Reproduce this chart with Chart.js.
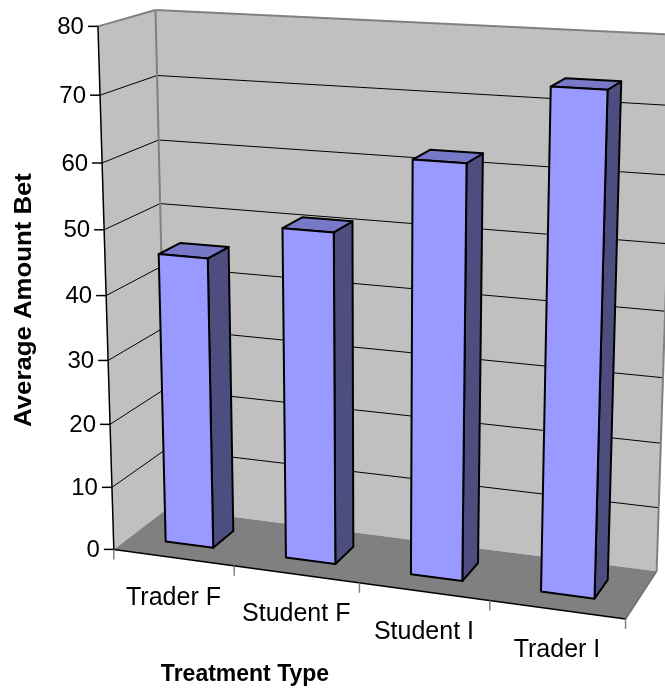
<!DOCTYPE html>
<html>
<head>
<meta charset="utf-8">
<script src="https://cdn.jsdelivr.net/npm/chart.js@4.4.0/dist/chart.umd.min.js"></script>
<style>
  html, body { margin: 0; padding: 0; background: #ffffff; }
  #wrap { width: 665px; height: 692px; position: relative; }
</style>
</head>
<body>
<div id="wrap"><canvas id="betChart"></canvas></div>
<script>
// 3D column chart: Average Amount Bet by treatment

const categories = ['Trader F', 'Student F', 'Student I', 'Trader I'];
const amounts = [45.5, 51, 62.5, 74];
const yTicks = [0, 10, 20, 30, 40, 50, 60, 70, 80];
const yMax = 80;

// frame box calibration: [a, b, c, x, y]
// a = along categories (0..1), b = along values (0..1), c = depth (front 0 .. back 1)
const frameCalib = [
    [0, 0, 0, 115, 549], [0, 0.25, 0, 110.5, 423], [0, 0.5, 0, 106, 295],
    [0, 0.75, 0, 101.5, 163], [0, 1, 0, 97, 27],
    [0, 0, 1, 166, 509], [0, 0.5, 1, 161.5, 268], [0, 1, 1, 157, 9],
    [0.25, 0, 0, 235, 566], [0.5, 0, 0, 359, 583], [0.75, 0, 0, 489, 602],
    [1, 0, 0, 626, 619], [1, 0, 1, 657, 570], [1, 1, 1, 674, 35]
];

// 막대 깊이 (앞뒤) 와 폭 비율
const barDepth = [0.3, 0.7];
const barWidthRatio = 0.4;

function fitProjection(pts) {
    const n = 11;
    const M = Array.from({ length: n }, () => new Array(n + 1).fill(0));
    pts.forEach(([X, Y, Z, u, v]) => {
        const rows = [
            [[X, Y, Z, 1, 0, 0, 0, 0, -u * X, -u * Y, -u * Z], u],
            [[0, 0, 0, 0, X, Y, Z, 1, -v * X, -v * Y, -v * Z], v]
        ];
        rows.forEach(([r, t]) => {
            for (let i = 0; i < n; i++) {
                for (let j = 0; j < n; j++) M[i][j] += r[i] * r[j];
                M[i][n] += r[i] * t;
            }
        });
    });
    for (let k = 0; k < n; k++) {
        let p = k;
        for (let i = k + 1; i < n; i++) if (Math.abs(M[i][k]) > Math.abs(M[p][k])) p = i;
        [M[k], M[p]] = [M[p], M[k]];
        for (let i = 0; i < n; i++) {
            if (i === k) continue;
            const f = M[i][k] / M[k][k];
            for (let j = k; j <= n; j++) M[i][j] -= f * M[k][j];
        }
    }
    return M.map((row, i) => row[n] / row[i]);
}

const P = fitProjection(frameCalib);
function proj(a, b, c) {
    const w = P[8] * a + P[9] * b + P[10] * c + 1;
    return [
        (P[0] * a + P[1] * b + P[2] * c + P[3]) / w,
        (P[4] * a + P[5] * b + P[6] * c + P[7]) / w
    ];
}

function poly(ctx, pts, fill, stroke, lw) {
    ctx.beginPath();
    pts.forEach((p, i) => {
        const q = proj(p[0], p[1], p[2]);
        if (i === 0) ctx.moveTo(q[0], q[1]); else ctx.lineTo(q[0], q[1]);
    });
    ctx.closePath();
    if (fill) { ctx.fillStyle = fill; ctx.fill(); }
    if (stroke) { ctx.strokeStyle = stroke; ctx.lineWidth = lw || 1; ctx.stroke(); }
}

function line(ctx, p0, p1, color, lw) {
    const a = proj(p0[0], p0[1], p0[2]);
    const b = proj(p1[0], p1[1], p1[2]);
    ctx.beginPath();
    ctx.moveTo(a[0], a[1]);
    ctx.lineTo(b[0], b[1]);
    ctx.strokeStyle = color;
    ctx.lineWidth = lw || 1;
    ctx.stroke();
}

const box3dPlugin = {
    id: 'box3d',
    afterDraw(chart) {
        const ctx = chart.ctx;
        const area = chart.chartArea;
        const xs = chart.scales.x;
        const ys = chart.scales.y;
        const normA = px => (px - area.left) / (area.right - area.left);
        const normB = v => (area.bottom - ys.getPixelForValue(v)) / (area.bottom - area.top);
        const band = normA(xs.getPixelForValue(1)) - normA(xs.getPixelForValue(0));

        ctx.save();
        ctx.lineJoin = 'round';

        // walls and floor
        poly(ctx, [[0, 0, 0], [0, 1, 0], [0, 1, 1], [0, 0, 1]], '#C0C0C0');
        poly(ctx, [[0, 0, 1], [0, 1, 1], [1, 1, 1], [1, 0, 1]], '#C0C0C0');
        poly(ctx, [[0, 0, 0], [0, 0, 1], [1, 0, 1], [1, 0, 0]], '#808080');

        // gridlines
        yTicks.forEach(t => {
            if (t === 0 || t === yMax) return;
            const b = normB(t);
            line(ctx, [0, b, 0], [0, b, 1], '#000000', 1);
            line(ctx, [0, b, 1], [1, b, 1], '#000000', 1);
        });

        // wall edges
        line(ctx, [0, 1, 0], [0, 1, 1], '#808080', 2);
        line(ctx, [0, 1, 1], [1, 1, 1], '#808080', 2);
        line(ctx, [0, 0, 1], [0, 1, 1], '#808080', 2);
        line(ctx, [1, 0, 1], [1, 1, 1], '#808080', 2);
        line(ctx, [1, 0, 0], [1, 0, 1], '#6E6E6E', 1.5);

        // value axis
        line(ctx, [0, 0, 0], [0, 1, 0], '#000000', 1.5);
        ctx.fillStyle = '#000000';
        ctx.font = '24px "Liberation Sans", Arial, sans-serif';
        ctx.textAlign = 'right';
        ctx.textBaseline = 'middle';
        yTicks.forEach(t => {
            const p = proj(0, normB(t), 0);
            ctx.beginPath();
            ctx.moveTo(p[0] - 10, p[1]);
            ctx.lineTo(p[0], p[1]);
            ctx.strokeStyle = '#000000';
            ctx.lineWidth = 1.5;
            ctx.stroke();
            ctx.fillText(String(t), p[0] - 14, p[1] + 1);
        });

        // category axis
        line(ctx, [0, 0, 0], [1, 0, 0], '#000000', 1.5);
        ctx.strokeStyle = '#808080';
        for (let i = 0; i <= categories.length; i++) {
            const p = proj(i * band, 0, 0);
            ctx.beginPath();
            ctx.moveTo(p[0], p[1]);
            ctx.lineTo(p[0], p[1] + 10);
            ctx.lineWidth = 1.5;
            ctx.stroke();
        }

        // bars
        amounts.forEach((v, i) => {
            const ac = normA(xs.getPixelForValue(i));
            const a0 = ac - band * barWidthRatio / 2;
            const a1 = ac + band * barWidthRatio / 2;
            const b1 = normB(v);
            const [c0, c1] = barDepth;
            poly(ctx, [[a1, 0, c0], [a1, 0, c1], [a1, b1, c1], [a1, b1, c0]], '#4D4D80', '#000000', 2);
            poly(ctx, [[a0, b1, c0], [a1, b1, c0], [a1, b1, c1], [a0, b1, c1]], '#7878C8', '#000000', 2);
            poly(ctx, [[a0, 0, c0], [a1, 0, c0], [a1, b1, c0], [a0, b1, c0]], '#9999FF', '#000000', 2);
        });

        // category labels
        ctx.fillStyle = '#000000';
        ctx.font = '25px "Liberation Sans", Arial, sans-serif';
        ctx.textAlign = 'center';
        ctx.textBaseline = 'alphabetic';
        categories.forEach((label, i) => {
            const ac = normA(xs.getPixelForValue(i));
            const p = proj(ac, 0, 0);
            ctx.fillText(label, p[0], p[1] + 47);
        });

        // axis titles
        ctx.font = 'bold 23px "Liberation Sans", Arial, sans-serif';
        ctx.textAlign = 'center';
        ctx.textBaseline = 'middle';
        ctx.save();
        ctx.translate(245, 674);
        ctx.scale(1, 1.07);
        ctx.fillText('Treatment Type', 0, 0);
        ctx.restore();
        ctx.save();
        ctx.translate(25, 300);
        ctx.rotate(-Math.PI / 2);
        ctx.scale(1.12, 1);
        ctx.fillText('Average Amount Bet', 0, 0);
        ctx.restore();

        ctx.restore();
    }
};

new Chart(document.getElementById('betChart'), {
    type: 'bar',
    data: {
        labels: categories,
        datasets: [{
            label: 'Average Amount Bet',
            data: amounts,
            backgroundColor: 'rgba(0,0,0,0)',
            borderWidth: 0
        }]
    },
    options: {
        responsive: true,
        maintainAspectRatio: false,
        animation: false,
        layout: { padding: 0 },
        plugins: {
            legend: { display: false },
            tooltip: { enabled: false }
        },
        scales: {
            x: { display: false },
            y: { display: false, min: 0, max: yMax }
        }
    },
    plugins: [box3dPlugin]
});
</script>
</body>
</html>
